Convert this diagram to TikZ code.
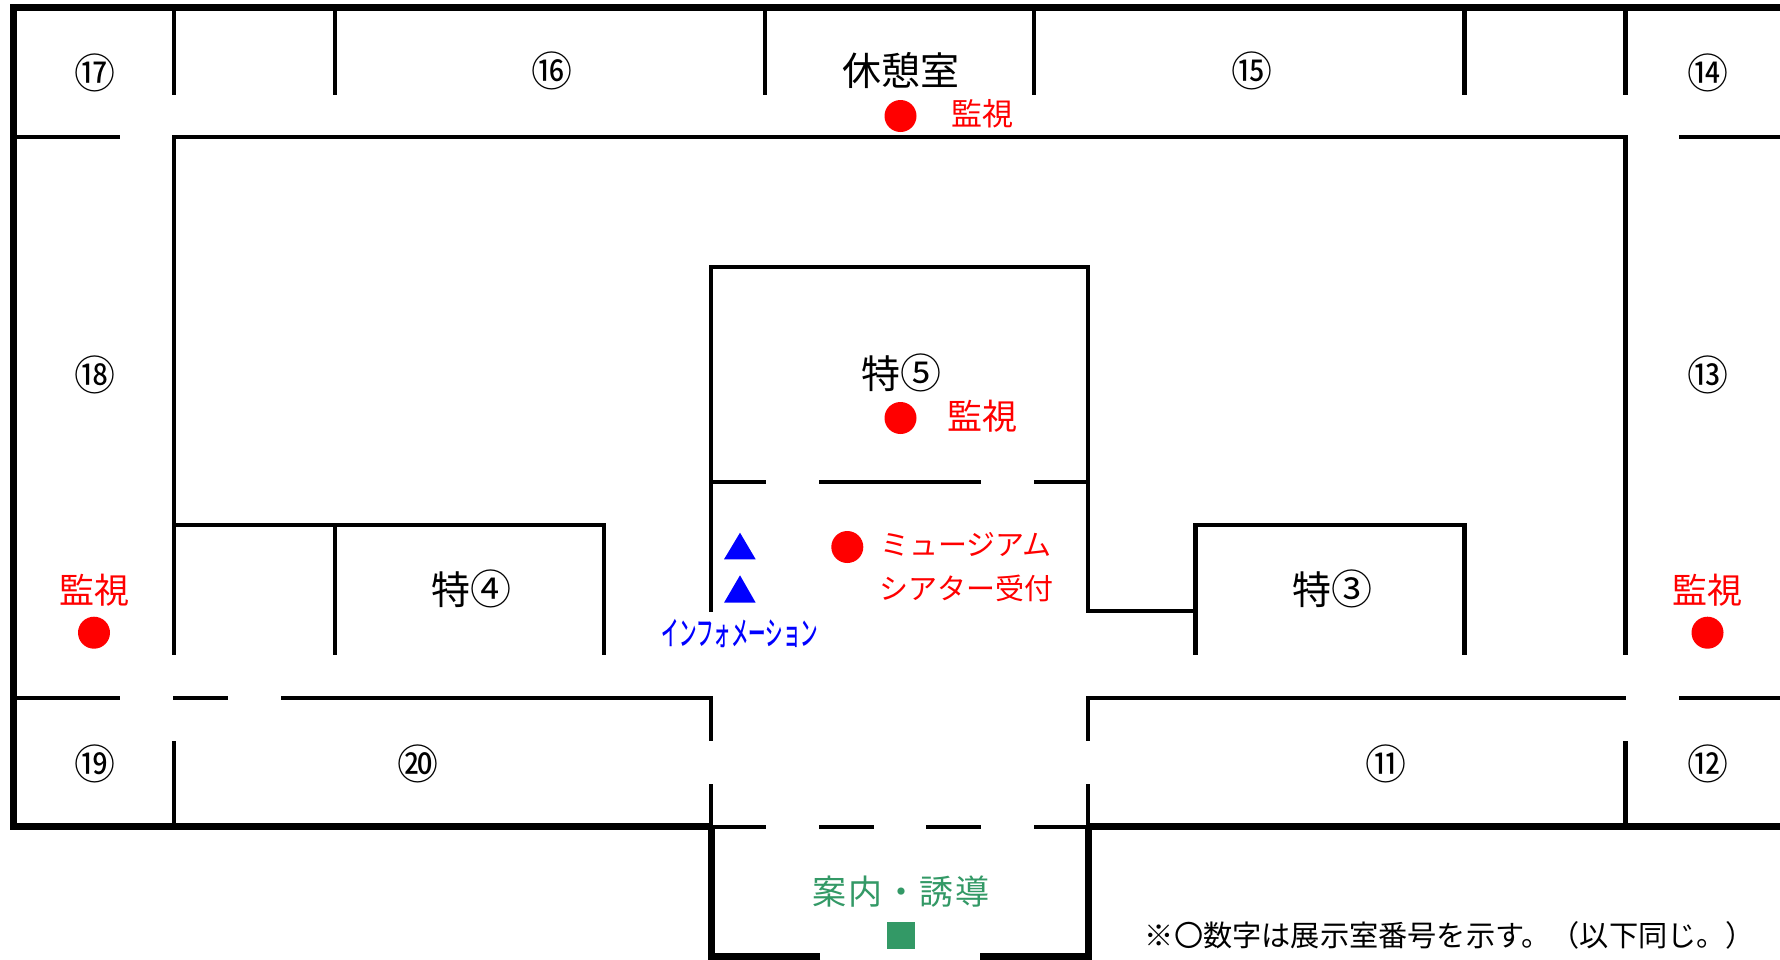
\documentclass[tikz,border=0pt]{standalone}
\usepackage{fontspec}
\usepackage{graphicx}
\newfontfamily\jp[BoldFont={Noto Sans CJK JP Bold}]{Noto Sans CJK JP}
\newfontfamily\jpmed{Noto Sans CJK JP Medium}
\newfontfamily\jpgreen[LetterSpace=5]{Noto Sans CJK JP}
\definecolor{grn}{HTML}{339966}
\newcommand{\fsz}[1]{\fontsize{#1pt}{#1pt}\selectfont}
\tikzset{
  wall/.style={line width=4.4pt,black,line cap=butt,line join=miter},
  thickwall/.style={line width=7pt,black,line cap=butt,line join=miter},
  lab/.style={inner sep=0pt,outer sep=0pt,font=\jp\fsz{39}},
  num/.style={lab,font=\jp\fsz{41}},
  redlab/.style={lab,text=red,font=\jp\fsz{35}},
  redsmall/.style={lab,text=red,font=\jp\fsz{29}},
  dot/.style={fill=red,draw=none},
  tri/.style={fill=blue,draw=none},
}
\begin{document}
\begin{tikzpicture}[x=1pt,y=-1pt]
\useasboundingbox (0,0) rectangle (1780,959);
\fill[white] (0,0) rectangle (1780,959);
% outer walls
\draw[thickwall] (1780,7.5) -- (13,7.5) -- (13,826.5) -- (711,826.5);
\draw[thickwall] (1088,826.5) -- (1780,826.5);
\draw[thickwall] (820,956) -- (711.5,956) -- (711.5,826.5);
\draw[thickwall] (980,956) -- (1088.5,956) -- (1088.5,826.5);
% top room partitions
\foreach \x in {173.7,334.9,765,1034,1464.4,1625.6}
  \draw[wall] (\x,8) -- (\x,94.7);
% corridor inner wall
\draw[wall] (13,136.7) -- (120,136.7);
\draw[wall] (173.7,654.5) -- (173.7,136.7) -- (1625.6,136.7) -- (1625.6,654.5);
\draw[wall] (1679,136.7) -- (1780,136.7);
% left rooms
\draw[wall] (173.7,525) -- (603.8,525) -- (603.8,654.5);
\draw[wall] (334.9,525) -- (334.9,654.5);
% centre room
\draw[wall] (711,611.7) -- (711,266.8) -- (1088,266.8) -- (1088,611) -- (1195.4,611);
\draw[wall] (711,481.7) -- (766,481.7);
\draw[wall] (819,481.7) -- (981,481.7);
\draw[wall] (1034,481.7) -- (1088,481.7);
% right room
\draw[wall] (1195.4,654.5) -- (1195.4,525) -- (1464.4,525) -- (1464.4,654.5);
% lower corridor wall
\draw[wall] (13,697.7) -- (119.8,697.7);
\draw[wall] (173.2,697.7) -- (228,697.7);
\draw[wall] (281,697.7) -- (711,697.7) -- (711,740.7);
\draw[wall] (1625.6,697.7) -- (1088,697.7) -- (1088,741);
\draw[wall] (1679,697.7) -- (1780,697.7);
\draw[wall] (711,784) -- (711,826);
\draw[wall] (1088,784) -- (1088,826);
\draw[wall] (173.7,741) -- (173.7,826);
\draw[wall] (1625.6,741) -- (1625.6,826);
% entrance doors
\draw[wall] (711,826.7) -- (766,826.7);
\draw[wall] (819,826.7) -- (874,826.7);
\draw[wall] (926,826.7) -- (981,826.7);
\draw[wall] (1034,826.7) -- (1088,826.7);
% room numbers
\node[num] (n17) at (94.5,73) {⑰};
\node[num] (n16) at (551.5,71) {⑯};
\node[num] (n15) at (1251.5,71) {⑮};
\node[num] (n14) at (1707.5,73) {⑭};
\node[num] (n18) at (94.5,375) {⑱};
\node[num] (n13) at (1707.5,375) {⑬};
\node[num] (n19) at (94.5,763.5) {⑲};
\node[num] (n20) at (417.5,763.5) {⑳};
\node[num] (n11) at (1385.5,763.5) {⑪};
\node[num] (n12) at (1707.5,763.5) {⑫};
\node[lab] (rest) at (901,70.5) {休憩室};
\node[lab] (t5) at (901,372.5) {特{\fsz{41}⑤}};
\node[lab] (t4) at (471.5,589) {特{\fsz{41}④}};
\node[lab] (t3) at (1332.7,589) {特{\fsz{41}③}};
% monitoring
\fill[dot] (900.5,116) circle (16);
\node[redsmall,font=\jp\fsz{31}] (m1) at (982,113.5) {監視};
\fill[dot] (900.5,418) circle (16);
\node[redlab] (m2) at (982,416.6) {監視};
\node[redlab] (m3) at (94,590.5) {監視};
\fill[dot] (94,632.7) circle (16);
\node[redlab] (m4) at (1707,590.5) {監視};
\fill[dot] (1707.5,632.7) circle (16);
\fill[dot] (847.3,547) circle (16);
\node[redsmall] (th1) at (966,544.5) {ミュージアム};
\node[redsmall] (th2) at (966,588) {シアター受付};
% information
\fill[tri] (740,532.7) -- (755.7,559.3) -- (724,559.3) -- cycle;
\fill[tri] (740,575.3) -- (755.7,602.7) -- (724,602.7) -- cycle;
\node[lab,text=blue,font=\jpmed\fsz{33}] (info) at (740,634) {\scalebox{0.53}[1]{インフォメーション}};
% guidance
\node[lab,text=grn,font=\jpgreen\fsz{34}] (guide) at (901,891.7) {案内・誘導};
\fill[grn] (887.3,921.7) rectangle (915.3,949.3);
% note
\node[lab,font=\jp\fsz{29.2}] (note) at (1450,935) {※〇数字は展示室番号を示す。（以下同じ。）};
\end{tikzpicture}
\end{document}
